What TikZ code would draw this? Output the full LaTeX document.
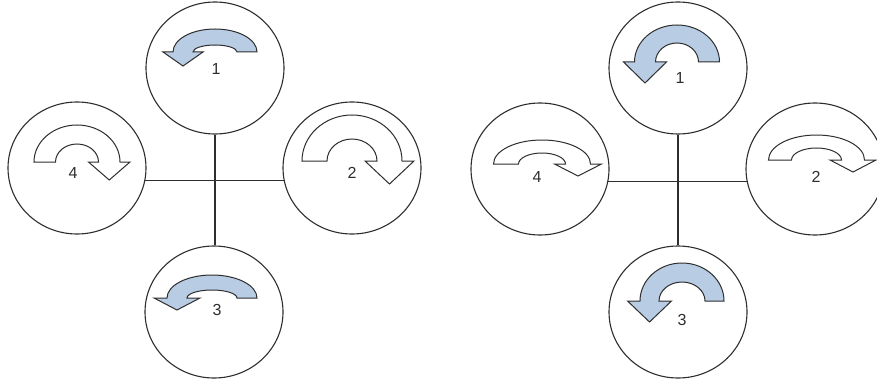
\documentclass[tikz,border=0pt]{standalone}
\usepackage{fontspec}
\setmainfont{Liberation Sans}
\usetikzlibrary{shapes.geometric}
\definecolor{inkc}{HTML}{2E2E2E}
\definecolor{bluef}{HTML}{B8CCE4}
\tikzset{
  rotor/.style={draw=inkc, line width=1.1pt, ellipse, minimum width=138pt, minimum height=132pt, inner sep=0pt, fill=white},
  arm/.style={draw=inkc, line width=1.1pt},
  arrowline/.style={draw=inkc, line width=1pt, line join=miter},
  lbl/.style={text=inkc, font=\fontsize{16}{16}\selectfont, inner sep=0pt},
  ccw/.style={every path/.append style={fill=bluef}},
  cw/.style={xscale=-1, every path/.append style={fill=white}}
}
% #1 style, #2 cx, #3 cy, #4 outer rx, #5 outer ry, #6 inner rx, #7 inner ry, #8 barb, #9 head length
\newcommand\rotarrow[9]{%
  \begin{scope}[shift={(#2,#3)}, yscale=-1, #1]
    \path[arrowline] (#4,0) arc[start angle=0, end angle=180, x radius=#4, y radius=#5]
      -- ({-#4-#8},0) -- ({-(#4+#6)/2},{-#9}) -- ({-#6+#8},0) -- ({-#6},0)
      arc[start angle=180, end angle=0, x radius=#6, y radius=#7] -- cycle;
  \end{scope}}
\begin{document}
\begin{tikzpicture}[x=1pt, y=-1pt]
\useasboundingbox (0,0) rectangle (877,385);
% left quad
\node[rotor] (l1) at (215,68) {};
\node[rotor] (l4) at (77,168) {};
\node[rotor] (l2) at (352,168) {};
\node[rotor] (l3) at (214,312) {};
\draw[arm] (l1.south) -- (l1.south |- l3.north);
\draw[arm] (l4.-10) -- (l2.190);
% right quad
\node[rotor] (r1) at (678,68) {};
\node[rotor] (r4) at (540,169) {};
\node[rotor] (r2) at (815,169) {};
\node[rotor] (r3) at (678,312) {};
\draw[arm] (r1.south) -- (r1.south |- r3.north);
\draw[arm] (r4.-10) -- (r2.190);
% arrows left
\rotarrow{ccw}{215}{52}{42}{23}{22}{7}{10}{14}
\rotarrow{ccw}{212}{298}{45}{23}{25}{8}{13}{12}
\rotarrow{cw}{77}{162}{43}{37}{21.5}{18}{10}{18}
\rotarrow{cw}{352}{161}{50}{46}{25}{22}{12}{23}
% arrows right
\rotarrow{ccw}{677}{62}{42.5}{37}{21.5}{19}{11}{21}
\rotarrow{ccw}{682}{301}{42}{38}{23}{19}{12.5}{21}
\rotarrow{cw}{542}{164}{48.5}{24}{23.5}{11}{11}{12}
\rotarrow{cw}{816.5}{160}{48}{25}{25}{12}{11.5}{12}
% labels
\node[lbl] (t1) at (216,69) {1};
\node[lbl] (t4) at (73,173) {4};
\node[lbl] (t2) at (352,173) {2};
\node[lbl] (t3) at (217,310) {3};
\node[lbl] (u1) at (680,78) {1};
\node[lbl] (u4) at (537,177) {4};
\node[lbl] (u2) at (816,177) {2};
\node[lbl] (u3) at (682,320) {3};
\end{tikzpicture}
\end{document}
